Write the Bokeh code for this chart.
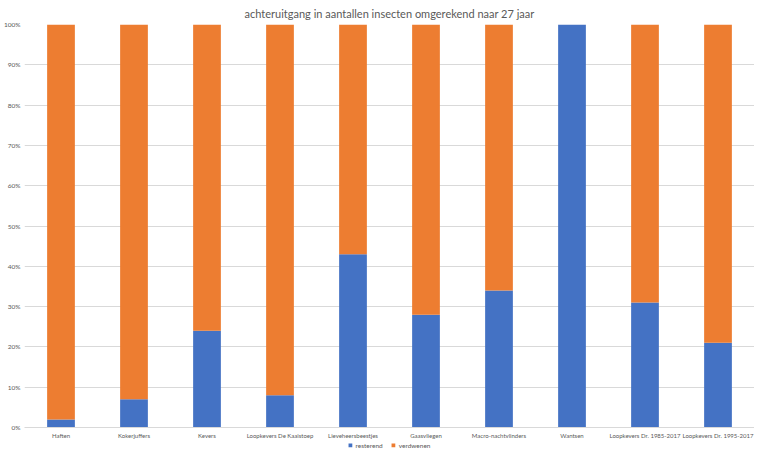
from bokeh.plotting import figure
from bokeh.layouts import column
from bokeh.models import FactorRange, Range1d, Legend, LegendItem, PrintfTickFormatter, FixedTicker, ColumnDataSource
from bokeh.embed import file_html
from bokeh.resources import INLINE

categories = ["Haften", "Kokerjuffers", "Kevers", "Loopkevers De Kaaistoep", "Lieveheersbeestjes",
              "Gaasvliegen", "Macro-nachtvlinders", "Wantsen", "Loopkevers Dr. 1985-2017",
              "Loopkevers Dr. 1995-2017"]
resterend = [2, 7, 24, 8, 43, 28, 34, 100, 31, 21]
verdwenen = [100 - v for v in resterend]
y_ticks = [0, 10, 20, 30, 40, 50, 60, 70, 80, 90, 100]
series = ["resterend", "verdwenen"]
colors = ["#4472C4", "#ED7D31"]

FONT = "Lato"
GREY = "#595959"

source = ColumnDataSource(dict(cat=categories, resterend=resterend, verdwenen=verdwenen))

p = figure(width=754, height=441, output_backend="svg", toolbar_location=None,
           x_range=FactorRange(*categories, range_padding=0), y_range=Range1d(0, 100),
           min_border_left=17, min_border_right=0, min_border_top=16, min_border_bottom=12)

p.title.text = "achteruitgang in aantallen insecten omgerekend naar 27 jaar"
p.title.align = "center"
p.title.text_font = FONT
p.title.text_font_size = "11px"
p.title.text_font_style = "normal"
p.title.text_color = GREY
p.title.offset = 0
p.title.standoff = 9

rs = p.vbar_stack(series, x="cat", width=0.38, source=source,
                  color=colors, line_color=None)

p.outline_line_color = None
p.xgrid.grid_line_color = None
p.ygrid.grid_line_color = "#D9D9D9"
p.ygrid.grid_line_width = 1

p.yaxis.ticker = FixedTicker(ticks=y_ticks)
p.yaxis.formatter = PrintfTickFormatter(format="%d%%")
p.yaxis.axis_line_color = None
p.yaxis.major_tick_line_color = None
p.yaxis.minor_tick_line_color = None
p.yaxis.major_tick_out = 0
p.yaxis.major_tick_in = 0
p.yaxis.minor_tick_out = 0
p.yaxis.major_label_text_font = FONT
p.yaxis.major_label_text_font_size = "6.5px"
p.yaxis.major_label_text_color = GREY
p.yaxis.major_label_standoff = 4

p.xaxis.axis_line_color = "#D9D9D9"
p.xaxis.major_tick_line_color = None
p.xaxis.minor_tick_line_color = None
p.xaxis.major_tick_out = 0
p.xaxis.major_tick_in = 0
p.xaxis.minor_tick_out = 0
p.xaxis.major_label_text_font = FONT
p.xaxis.major_label_text_font_size = "6px"
p.xaxis.major_label_text_color = GREY
p.xaxis.major_label_standoff = 4

# legend strip underneath the chart
lg = figure(width=754, height=8, output_backend="svg", toolbar_location=None,
            x_range=FactorRange(*categories, range_padding=0), y_range=Range1d(0, 100),
            x_axis_location=None, y_axis_location=None,
            min_border_left=0, min_border_right=0, min_border_top=0, min_border_bottom=0)
lg.outline_line_color = None
lg.xgrid.grid_line_color = None
lg.ygrid.grid_line_color = None
lrs = lg.vbar_stack(series, x="cat", width=0.38, source=source,
                    color=colors, line_color=None)
for r in lrs:
    r.visible = False

legend = Legend(items=[LegendItem(label=series[i], renderers=[lrs[i]]) for i in range(2)],
                orientation="horizontal", location="center",
                label_text_font=FONT, label_text_font_size="6.5px", label_text_color=GREY,
                glyph_height=5, glyph_width=5, label_height=7, label_standoff=3,
                padding=0, margin=0, spacing=8, border_line_color=None,
                background_fill_alpha=0, inactive_fill_alpha=0)
lg.add_layout(legend, "center")

layout = column(p, lg, spacing=0)
open("out.html", "w").write(file_html(layout, INLINE))
